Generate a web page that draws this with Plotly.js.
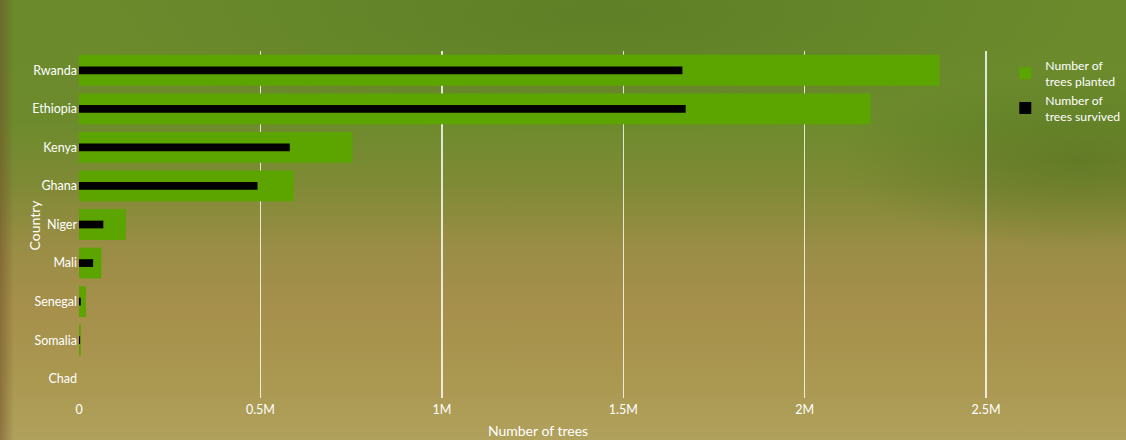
<!DOCTYPE html>
<html>
<head>
<meta charset="utf-8">
<script src="https://cdn.plot.ly/plotly-3.0.1.min.js"></script>
<style>
html,body{margin:0;padding:0;width:1126px;height:440px;overflow:hidden;}
body{
  background:
    radial-gradient(ellipse 240px 90px at 1080px 160px, rgba(75,105,25,0.45), rgba(75,105,25,0) 100%),
    radial-gradient(ellipse 500px 120px at 600px 15px, rgba(80,115,30,0.45), rgba(80,115,30,0) 100%),
    linear-gradient(90deg, rgba(110,80,40,0.55) 0px, rgba(110,80,40,0) 14px),
    linear-gradient(180deg, #6a8a2c 0%, #6d8b2d 28%, #7f8a35 42%, #9a8d45 56%, #a6904b 70%, #aa9750 85%, #b0a15c 100%);
}
#chart{width:1126px;height:440px;}
</style>
</head>
<body>
<div id="chart"></div>
<script>
var countries = ["Rwanda","Ethiopia","Kenya","Ghana","Niger","Mali","Senegal","Somalia","Chad"];
var planted  = [2372000, 2182000, 754000, 592000, 129000, 62000, 19000, 5000, 0];
var survived = [1663000, 1672000, 581000, 492000, 67000, 39000, 5000, 3000, 0];
var tickVals = [0, 500000, 1000000, 1500000, 2000000, 2500000];
var tickLabels = ["0", "0.5M", "1M", "1.5M", "2M", "2.5M"];

var fontFam = "Lato, 'Open Sans', sans-serif";

var traces = [
  {type:"bar", orientation:"h", name:"Number of<br>trees planted", y:countries, x:planted,
   marker:{color:"#5ca400"}, width:0.8, hoverinfo:"x+y"},
  {type:"bar", orientation:"h", name:"Number of<br>trees survived", y:countries, x:survived,
   marker:{color:"#000000"}, width:0.2, hoverinfo:"x+y"}
];

var layout = {
  width:1126, height:440,
  paper_bgcolor:"rgba(0,0,0,0)", plot_bgcolor:"rgba(0,0,0,0)",
  barmode:"overlay",
  margin:{l:79, r:129, t:51, b:42, autoexpand:false},
  font:{family:fontFam, color:"#ffffff", size:12},
  xaxis:{range:[0,2530000], tickvals:tickVals, ticktext:tickLabels,
         showgrid:true, gridcolor:"rgba(255,255,255,0.8)", gridwidth:1.5,
         zeroline:true, zerolinecolor:"rgba(0,0,0,0)", showline:false, ticks:"",
         tickfont:{size:12.5, color:"#ffffff"}, ticklabelstandoff:2, automargin:false,
         title:{text:"Number of trees", font:{size:14, color:"#ffffff"}, standoff:10}},
  yaxis:{categoryorder:"array", categoryarray:countries, autorange:"reversed",
         showgrid:false, zeroline:false, ticks:"", ticklabelstandoff:1, automargin:false,
         tickfont:{size:12.5, color:"#ffffff"}},
  legend:{x:1.009, xanchor:"left", y:1.0, yanchor:"top",
          font:{size:12.2, color:"#ffffff"}, bgcolor:"rgba(0,0,0,0)", traceorder:"normal",
          tracegroupgap:2},
  annotations:[{text:"Country", xref:"paper", yref:"paper", x:-0.048, y:0.5,
                xanchor:"center", yanchor:"middle", textangle:-90, showarrow:false,
                font:{size:14, color:"#ffffff"}}],
  showlegend:true
};

Plotly.newPlot("chart", traces, layout, {displayModeBar:false, staticPlot:true});
</script>
</body>
</html>
